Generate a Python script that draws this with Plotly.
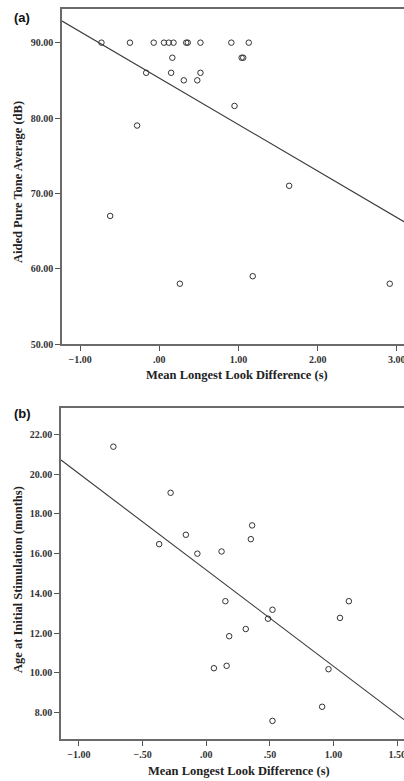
import numpy as np
import plotly.graph_objects as go

# ---- Panel (a) data ----
a_x = [-0.73, -0.37, -0.07, 0.06, 0.12, 0.18, 0.34, 0.36, 0.52, 0.91, 1.13,
       0.165, 1.04, 1.06, -0.165, 0.15, 0.52, 0.31, 0.48, 0.95, -0.28, 1.64,
       -0.62, 0.26, 1.18, 2.91]
a_y = [90, 90, 90, 90, 90, 90, 90, 90, 90, 90, 90,
       88, 88, 88, 86, 86, 86, 85, 85, 81.6, 79, 71,
       67, 58, 59, 58]
a_intercept = 85.3
a_slope = -6.17
a_xrange = [-1.228, 3.09]
a_yticks = [50, 60, 70, 80, 90]
a_yticktext = ["50.00", "60.00", "70.00", "80.00", "90.00"]
a_xticks = [-1, 0, 1, 2, 3]
a_xticktext = ["\u22121.00", ".00", "1.00", "2.00", "3.00"]

# ---- Panel (b) data ----
b_x = [-0.73, -0.28, -0.37, -0.16, -0.07, 0.12, 0.35, 0.36,
       0.15, 0.52, 0.485, 0.31, 0.18, 0.06, 0.16, 1.12, 1.05, 0.96, 0.91, 0.52]
b_y = [21.38, 19.06, 16.48, 16.95, 16.0, 16.11, 16.73, 17.42,
       13.61, 13.18, 12.73, 12.21, 11.85, 10.24, 10.36, 13.61, 12.77, 10.19, 8.30, 7.59]
b_intercept = 15.18
b_slope = -4.844
b_xrange = [-1.141, 1.553]
b_yticks = [8, 10, 12, 14, 16, 18, 20, 22]
b_yticktext = ["8.00", "10.00", "12.00", "14.00", "16.00", "18.00", "20.00", "22.00"]
b_xticks = [-1, -0.5, 0, 0.5, 1, 1.5]
b_xticktext = ["\u22121.00", "\u2212.50", ".00", ".50", "1.00", "1.50"]

W, H = 404, 781
serif = "Liberation Serif"
mk = dict(symbol="circle-open", size=5.5, color="#333333", line=dict(width=1, color="#333333"))

fig = go.Figure()
fig.add_trace(go.Scatter(x=a_x, y=a_y, mode="markers", marker=mk, xaxis="x", yaxis="y"))
ax_line = np.array(a_xrange)
fig.add_trace(go.Scatter(x=ax_line, y=a_intercept + a_slope * ax_line, mode="lines",
                         line=dict(color="#3a3a3a", width=1.2), xaxis="x", yaxis="y"))
fig.add_trace(go.Scatter(x=b_x, y=b_y, mode="markers", marker=mk, xaxis="x2", yaxis="y2"))
bx_line = np.array(b_xrange)
fig.add_trace(go.Scatter(x=bx_line, y=b_intercept + b_slope * bx_line, mode="lines",
                         line=dict(color="#3a3a3a", width=1.1), xaxis="x2", yaxis="y2"))

tickfont = dict(family=serif, size=10, color="#333333", weight="bold")
axcommon = dict(showgrid=False, zeroline=False, showline=True, linecolor="#6a6a6a",
                linewidth=1.5, mirror=True, ticks="outside", ticklen=5, tickwidth=1.2,
                tickcolor="#555555", tickfont=tickfont, automargin=False)

fig.update_layout(
    width=W, height=H, margin=dict(l=0, r=0, t=0, b=0, autoexpand=False),
    paper_bgcolor="white", plot_bgcolor="white", showlegend=False,
    xaxis=dict(domain=[62 / W, 1.0], range=a_xrange, tickvals=a_xticks,
               ticktext=a_xticktext, anchor="y", ticklabeloverflow="allow", **axcommon),
    yaxis=dict(domain=[1 - 344 / H, 1 - 9 / H], range=[50, 94.47], tickvals=a_yticks,
               ticktext=a_yticktext, anchor="x", **axcommon),
    xaxis2=dict(domain=[61 / W, 1.0], range=b_xrange, tickvals=b_xticks,
                ticktext=b_xticktext, anchor="y2", ticklabeloverflow="allow", **axcommon),
    yaxis2=dict(domain=[1 - 739 / H, 1 - 407.7 / H], range=[6.68, 23.34], tickvals=b_yticks,
                ticktext=b_yticktext, anchor="x2", **axcommon),
)

titlefont = dict(family=serif, size=12.5, color="#222222")
def ann(text, x, y, angle=0, font=titlefont):
    fig.add_annotation(text=text, x=x / W, y=1 - y / H, xref="paper", yref="paper",
                       showarrow=False, textangle=angle, font=font,
                       xanchor="center", yanchor="middle")

ann("<b>Mean Longest Look Difference (s)</b>", 237, 375)
ann("<b>Aided Pure Tone Average (dB)</b>", 18, 182, angle=-90)
ann("<b>Mean Longest Look Difference (s)</b>", 239, 771)
ann("<b>Age at Initial Stimulation (months)</b>", 18, 580, angle=-90)
labfont = dict(family="Liberation Sans", size=13, color="#111111")
ann("<b>(a)</b>", 22, 17, font=labfont)
ann("<b>(b)</b>", 22, 413, font=labfont)

fig.write_html("out.html", config={"displayModeBar": False},
               post_script="document.body.style.margin='0';document.body.style.padding='0';document.body.style.overflow='hidden';")
